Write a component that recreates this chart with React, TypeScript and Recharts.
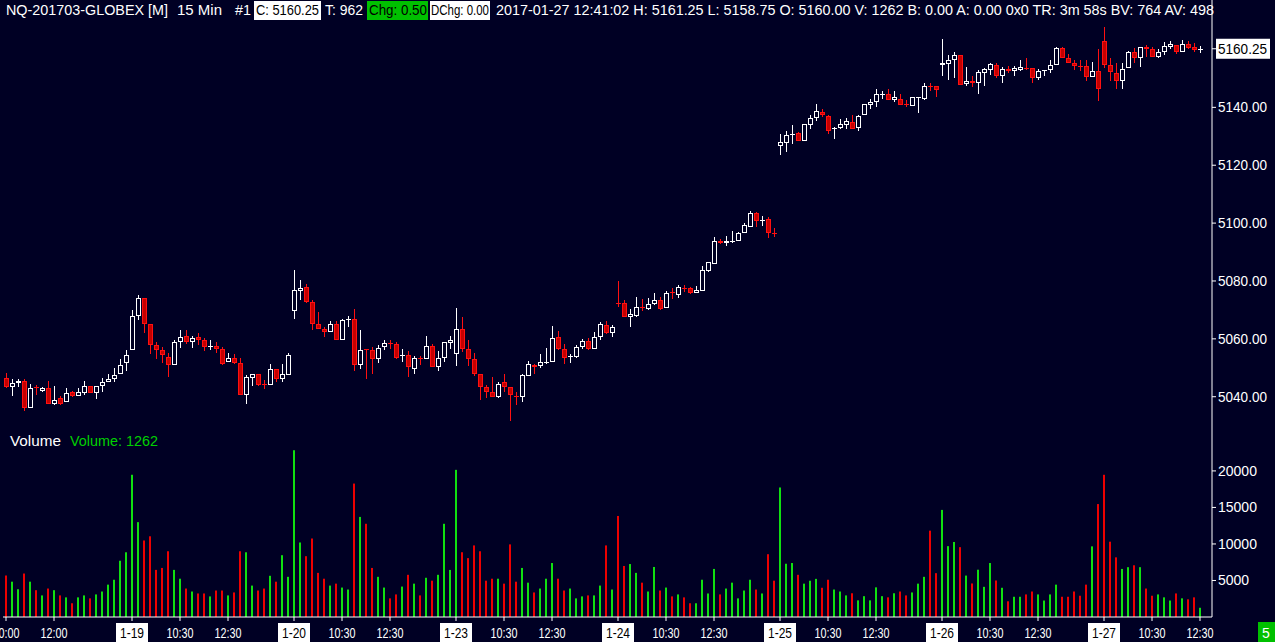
import React from "react";
import { ComposedChart, Bar, XAxis, YAxis } from "recharts";

// sessions shown (15 min bars, day session only)
const days = ["1-18", "1-19", "1-20", "1-23", "1-24", "1-25", "1-26", "1-27"];
const dayFirstBar = ["10:00", "08:30", "08:30", "08:30", "08:30", "08:30", "08:30", "08:30"];
const dayBarCount = [21, 27, 27, 27, 27, 27, 27, 17];

// one line per session
const opens = [
  5046.5, 5043.25, 5044.75, 5045.5, 5036.25, 5043.25, 5042, 5043, 5037.5, 5039.5, 5038.25, 5041.5, 5040.25, 5041.25, 5043.75, 5041.25, 5043.75, 5045.25, 5046, 5048, 5051.5,
  5056.25, 5068, 5074, 5065.25, 5057.75, 5056.25, 5053.75, 5051, 5059, 5061, 5058.75, 5060.5, 5059.5, 5057.25, 5057.5, 5056.5, 5052, 5053.5, 5051.75, 5040.5, 5046.5, 5047.75, 5044.25, 5044, 5049.5, 5046, 5047.5,
  5069.75, 5076.5, 5077.75, 5072.75, 5065, 5063.5, 5062.5, 5065, 5059.75, 5066.75, 5067, 5051, 5056.5, 5056, 5053, 5057.25, 5058.5, 5058.25, 5054, 5054.25, 5049.75, 5053.5, 5053, 5057.5, 5050.25, 5053.25, 5058.5,
  5054.75, 5063.5, 5056.5, 5053, 5047.75, 5043.25, 5041.5, 5039.75, 5045, 5043.25, 5040.25, 5039.75, 5047, 5051, 5050.5, 5051.75, 5052, 5060.5, 5056.5, 5053.75, 5053.75, 5057.25, 5059.25, 5056.5, 5060.5, 5064.75, 5062,
  5072.5, 5072.25, 5067.5, 5068, 5071, 5070.25, 5072, 5073.5, 5070.75, 5076.25, 5075, 5077.5, 5077.5, 5076, 5076.5, 5083.5, 5086, 5093.75, 5093, 5093.5, 5093.75, 5096.5, 5098.75, 5103.5, 5100.75, 5101.25, 5096.75,
  5126.75, 5127.75, 5130.5, 5131, 5128.5, 5133.75, 5136.25, 5138.5, 5137, 5132.75, 5133, 5134, 5135, 5132.75, 5137.25, 5140.75, 5142, 5144.5, 5144.75, 5142.5, 5143, 5141, 5140.5, 5143.25, 5142.75, 5147.5, 5147.5,
  5154.75, 5155, 5156.5, 5158.25, 5148, 5149.25, 5148.5, 5152, 5153, 5154.5, 5151, 5153.25, 5152.5, 5153, 5153.75, 5153.5, 5150, 5152.75, 5153, 5154.5, 5160.5, 5157, 5155.5, 5154.25, 5154.25, 5150.5, 5152.5,
  5163, 5154.5, 5152, 5149.25, 5153.5, 5159, 5157, 5161, 5160.25, 5157.25, 5159, 5161, 5161.5, 5159.25, 5161.75, 5161, 5160,
];
const highs = [
  5048.25, 5046, 5046.25, 5046.25, 5044.25, 5044, 5043.5, 5045.5, 5043.75, 5040.25, 5043, 5042, 5043, 5045.5, 5043.75, 5043.75, 5046.5, 5048, 5050, 5053, 5056,
  5070, 5075.25, 5074, 5065.25, 5058.75, 5057.25, 5055, 5059.5, 5063, 5063, 5061, 5062, 5060.25, 5059.5, 5059, 5057.25, 5055, 5054.75, 5053.5, 5047.5, 5048, 5048, 5045.75, 5051.25, 5049.5, 5051.25, 5055,
  5083.75, 5080.5, 5079, 5073.5, 5069.25, 5064.25, 5066.25, 5066.25, 5067, 5068, 5070.25, 5063, 5056.5, 5057.25, 5058, 5059.75, 5059.75, 5059, 5056.5, 5055.75, 5054, 5054, 5061, 5058.25, 5055.75, 5059, 5061,
  5070.5, 5067.5, 5059.75, 5055, 5048, 5044, 5046.75, 5045, 5047.75, 5043.25, 5041.5, 5048, 5052.25, 5051.25, 5054.75, 5056.75, 5064.5, 5062.75, 5058.25, 5054.75, 5058, 5060, 5060.25, 5062.5, 5065.75, 5066.25, 5064.75,
  5080, 5073.5, 5070.25, 5074.5, 5073.75, 5074, 5076, 5074.5, 5076.5, 5077.5, 5078.5, 5078.5, 5077.75, 5078.25, 5085.25, 5086.5, 5095.25, 5094.5, 5095.5, 5097.25, 5097, 5100, 5104.25, 5103.75, 5102.5, 5102, 5098.25,
  5130.75, 5132, 5134, 5131.5, 5134.25, 5137.25, 5141.25, 5139.5, 5137.5, 5133.25, 5136, 5136.25, 5137.5, 5137.5, 5141.25, 5142.75, 5146.5, 5145.75, 5146.5, 5145.5, 5144.75, 5142.5, 5143.75, 5143.75, 5148.5, 5148.5, 5147.5,
  5163.5, 5158.25, 5159, 5158.25, 5154, 5151, 5153, 5153.5, 5155.5, 5155.5, 5154, 5154.25, 5154.25, 5156.25, 5157, 5153.5, 5153.25, 5153, 5156.5, 5161, 5161, 5158.5, 5156.5, 5156.5, 5156.5, 5155.75, 5160.25,
  5167.75, 5157, 5155.5, 5155.25, 5159.5, 5160.5, 5161, 5161.5, 5161, 5160, 5162.5, 5163, 5161.5, 5163.25, 5163, 5162.25, 5161.25,
];
const lows = [
  5043, 5040.25, 5043.25, 5035, 5036.25, 5040.75, 5041.75, 5037.5, 5037.25, 5037, 5038.25, 5040, 5040.25, 5040.75, 5041.25, 5039.25, 5041.5, 5045.25, 5045, 5048, 5049,
  5056.25, 5066.5, 5062, 5054.75, 5053, 5051.5, 5046.75, 5051, 5057, 5058.25, 5057, 5057.75, 5055.75, 5056, 5055.25, 5051, 5052, 5051.25, 5040.5, 5037.5, 5043.75, 5043.75, 5042.5, 5044, 5045.25, 5045.25, 5047.5,
  5067, 5073.5, 5072.25, 5063, 5063.25, 5060.5, 5062.5, 5059.75, 5059.75, 5064.25, 5049, 5049.5, 5046, 5047.75, 5051.75, 5056, 5056.5, 5053, 5052, 5046.75, 5048, 5051, 5053, 5050.25, 5049, 5052, 5056.5,
  5050.5, 5055.5, 5050.5, 5047, 5039, 5039.5, 5039.75, 5039.5, 5041.75, 5031.5, 5037, 5038.25, 5047, 5048, 5050, 5051.25, 5052, 5056, 5051.25, 5051.75, 5053.5, 5056.5, 5056.25, 5056.5, 5059.5, 5061.75, 5060.75,
  5071, 5067.5, 5064.25, 5067.5, 5069.5, 5070, 5071.75, 5070, 5070.75, 5073.75, 5074.25, 5076.25, 5075.5, 5076, 5076.5, 5083.25, 5086, 5092.75, 5092, 5093.25, 5093.75, 5096.5, 5098.75, 5098.75, 5099, 5095, 5095.25,
  5123.5, 5124.5, 5127.5, 5128.5, 5128.5, 5132.5, 5135.25, 5136.5, 5130.75, 5129, 5132.5, 5132.5, 5132.5, 5132, 5137.25, 5139.5, 5140, 5143, 5142.5, 5142, 5140.75, 5140, 5140.5, 5138, 5142.5, 5145.5, 5143.5,
  5151, 5149.5, 5150, 5147.75, 5147.5, 5147, 5144.5, 5147.5, 5151.25, 5150.25, 5148.5, 5151.75, 5151, 5152.5, 5153, 5148.25, 5149.5, 5151, 5152, 5154.5, 5157, 5155.25, 5153, 5152.5, 5149, 5150.5, 5142.25,
  5153.5, 5149, 5146.5, 5146.25, 5153.5, 5155.5, 5154, 5157.5, 5157.25, 5157, 5158.25, 5160.25, 5158.5, 5159, 5160, 5159, 5158.75,
];
const closes = [
  5043.25, 5044.75, 5045.5, 5036.25, 5043, 5043, 5043, 5037.5, 5039, 5037.5, 5041.25, 5040.25, 5041.5, 5043.75, 5041.25, 5043.75, 5045.25, 5046.25, 5047.5, 5051, 5054.5,
  5068, 5074, 5065.25, 5058, 5056.25, 5054.25, 5051, 5059, 5060.5, 5058.75, 5060.25, 5059.5, 5057.25, 5057.5, 5056.5, 5051.25, 5053.5, 5051.75, 5040.5, 5046.75, 5047.75, 5044, 5044, 5049.5, 5046, 5047.75, 5054.5,
  5077, 5077.5, 5072.75, 5065, 5063.25, 5062.5, 5065, 5059.75, 5066.5, 5067, 5051, 5056, 5056.25, 5053, 5057, 5058.5, 5058.25, 5053.5, 5054.25, 5050.25, 5053.25, 5053.25, 5057.5, 5050.25, 5053.25, 5058.75, 5059.5,
  5063.5, 5056.5, 5053, 5047.75, 5043.25, 5041.5, 5039.75, 5044.5, 5043.25, 5040.5, 5040, 5047.5, 5051.25, 5050.25, 5052, 5052, 5060.25, 5056.5, 5053.5, 5054, 5057.25, 5059.25, 5056.5, 5060.5, 5065, 5062, 5064,
  5072.25, 5067.5, 5068.5, 5071, 5070.75, 5072, 5073.5, 5070.25, 5076, 5076, 5077.75, 5077.25, 5076, 5077, 5083.75, 5086.5, 5093.75, 5093, 5093.75, 5093.75, 5096.5, 5099.25, 5103.5, 5100.75, 5101, 5096.75, 5096.5,
  5128, 5130.5, 5130.75, 5128.5, 5134.25, 5136.25, 5138.75, 5137.25, 5132, 5133, 5134.25, 5135.25, 5132.5, 5137, 5141.25, 5142, 5144.75, 5144.75, 5142.5, 5143.5, 5140.75, 5140.75, 5143.5, 5143.5, 5147.5, 5147.25, 5146,
  5155.5, 5156.5, 5158.25, 5147.75, 5149.25, 5148.5, 5152.25, 5153.25, 5155, 5151, 5153.25, 5152.5, 5153.5, 5154, 5153.5, 5150.25, 5152.5, 5153, 5154.5, 5160.5, 5157, 5155.5, 5154.25, 5154, 5150.5, 5152.5, 5146.5,
  5154.5, 5152.25, 5149.25, 5153.25, 5159, 5157, 5161, 5160.25, 5157.5, 5159, 5161.25, 5162, 5159.25, 5161.75, 5160.5, 5159.75, 5160.25,
];
const volumes = [
  5680, 4835, 3800, 5950, 4835, 3670, 2955, 3895, 3670, 2955, 2686, 1880, 2686, 2955, 2550, 3090, 3490, 4430, 5100, 7700, 8860,
  19470, 12985, 10475, 11050, 6450, 6715, 9000, 6450, 5240, 3895, 3490, 3220, 3220, 2820, 3625, 3625, 2955, 3360, 9000, 8860, 4300, 3625, 3895, 5640, 4835, 8460, 5500,
  22830, 10200, 8325, 10745, 6040, 5240, 4300, 4565, 4030, 3760, 18265, 13700, 12760, 6715, 5500, 4030, 2550, 3090, 4165, 5775, 4565, 2955, 5370, 4970, 5775, 12760, 6445,
  20145, 8865, 8060, 9800, 9000, 4970, 5240, 5240, 4565, 9940, 4835, 6715, 4700, 3360, 3895, 5240, 7390, 5240, 3625, 3895, 2550, 2820, 2955, 2955, 4300, 9800, 3760,
  13830, 6985, 7250, 6040, 4700, 3490, 6850, 3625, 4030, 2820, 3090, 2686, 1880, 1880, 5100, 3220, 6580, 3090, 3895, 4700, 2550, 3625, 5100, 3760, 3220, 8595, 4970,
  17730, 7290, 7390, 5775, 4565, 4965, 5220, 4000, 5100, 3760, 3490, 2955, 3250, 2280, 2850, 2280, 4060, 2850, 2690, 3250, 3490, 2955, 3360, 4565, 5500, 11820, 6000,
  14660, 9700, 10270, 9560, 5670, 4590, 6475, 4130, 7390, 5000, 4000, 2150, 2770, 2770, 3090, 3490, 3090, 2255, 3090, 4430, 2770, 2770, 3490, 2910, 4430, 9670, 15460,
  19470, 10310, 8165, 6580, 6820, 7080, 6820, 3895, 2910, 3090, 2690, 2255, 3225, 2555, 2420, 2690, 1262,
];

const xTickKeys = [
  "1-18 10:00", "1-18 12:00",
  "1-19 08:30", "1-19 10:30", "1-19 12:30",
  "1-20 08:30", "1-20 10:30", "1-20 12:30",
  "1-23 08:30", "1-23 10:30", "1-23 12:30",
  "1-24 08:30", "1-24 10:30", "1-24 12:30",
  "1-25 08:30", "1-25 10:30", "1-25 12:30",
  "1-26 08:30", "1-26 10:30", "1-26 12:30",
  "1-27 08:30", "1-27 10:30", "1-27 12:30",
];
const priceTicks = [5040, 5060, 5080, 5100, 5120, 5140, 5160.25];
const lastPrice = 5160.25;
const volumeTicks = [5000, 10000, 15000, 20000];

const BG = "#000024";
const UP = "#ffffff";
const DOWN = "#ff1010";
const DOWN_FILL = "#c40000";
const VOL_UP = "#10e010";
const VOL_DOWN = "#ee0000";

const pad2 = (n: number) => (n < 10 ? "0" + n : "" + n);

const rows: any[] = [];
{
  let idx = 0;
  days.forEach((day, d) => {
    const [h0, m0] = dayFirstBar[d].split(":").map(Number);
    for (let k = 0; k < dayBarCount[d]; k++) {
      const mins = h0 * 60 + m0 + 15 * k;
      const time = pad2(Math.floor(mins / 60)) + ":" + pad2(mins % 60);
      rows.push({
        key: day + " " + time,
        open: opens[idx],
        high: highs[idx],
        low: lows[idx],
        close: closes[idx],
        range: [lows[idx], highs[idx]],
        volume: volumes[idx],
        up: closes[idx] >= opens[idx],
      });
      idx++;
    }
  });
}

function CandleShape(props: any) {
  const { x, y, width, height, payload } = props;
  if (x == null || y == null || !payload) return null;
  const top = Math.min(y, y + height);
  const bot = Math.max(y, y + height);
  const span = payload.high - payload.low;
  const py = (v: number) => (span > 0 ? top + ((payload.high - v) / span) * (bot - top) : top);
  const cx = Math.round(x + width / 2);
  const color = payload.up ? UP : DOWN;
  const bt = Math.round(py(Math.max(payload.open, payload.close)));
  const bb = Math.round(py(Math.min(payload.open, payload.close)));
  const bh = bb - bt;
  const wt = Math.round(top);
  const wb = Math.round(bot);
  return (
    <g>
      <rect x={cx} y={wt} width={1} height={Math.max(1, wb - wt)} fill={color} />
      {bh < 2 ? (
        <rect x={cx - 2} y={bt} width={5} height={Math.max(1, bh)} fill={color} />
      ) : (
        <rect
          x={cx - 1.5}
          y={bt + 0.5}
          width={4}
          height={bh - 1}
          fill={payload.up ? BG : DOWN_FILL}
          stroke={color}
          strokeWidth={1}
        />
      )}
    </g>
  );
}

function VolumeShape(props: any) {
  const { x, y, width, height, payload } = props;
  if (x == null || y == null || !payload) return null;
  const cx = Math.round(x + width / 2);
  return <rect x={cx - 1} y={y} width={2} height={height} fill={payload.up ? VOL_UP : VOL_DOWN} />;
}

function PriceTick(props: any) {
  const { x, y, payload } = props;
  const v = payload.value;
  const isLast = v === lastPrice;
  return (
    <g>
      {isLast && <rect x={x - 2} y={y - 10} width={54} height={20} fill="#ffffff" />}
      <text x={x} y={y} dy="0.355em" fill={isLast ? "#000000" : "#ffffff"} fontSize={14} textLength={49} lengthAdjust="spacingAndGlyphs">
        {v.toFixed(2)}
      </text>
    </g>
  );
}

function VolumeTick(props: any) {
  const { x, y, payload } = props;
  return (
    <text x={x} y={y} dy="0.355em" fill="#ffffff" fontSize={14}>
      {payload.value}
    </text>
  );
}

function TimeTick(props: any) {
  const { x, payload } = props;
  const [date, time] = String(payload.value).split(" ");
  const isDay = time === "08:30";
  if (isDay) {
    return (
      <g>
        <rect x={x - 16} y={193} width={32} height={19} fill="#ffffff" />
        <text x={x} y={208} textAnchor="middle" fill="#000000" fontSize={14} textLength={24} lengthAdjust="spacingAndGlyphs">
          {date}
        </text>
      </g>
    );
  }
  return (
    <text x={x} y={208} textAnchor="middle" fill="#ffffff" fontSize={14} textLength={27} lengthAdjust="spacingAndGlyphs">
      {time.replace(/^0/, "")}
    </text>
  );
}

const header = [
  { x: 6, w: 162, text: "NQ-201703-GLOBEX [M]" },
  { x: 177, w: 45, text: "15 Min" },
  { x: 235, w: 16, text: "#1" },
  { x: 256, w: 63, text: "C: 5160.25", box: "#ffffff", bx: 254, bw: 67 },
  { x: 325, w: 38, text: "T: 962" },
  { x: 369, w: 58, text: "Chg: 0.50", box: "#00c000", bx: 367, bw: 61 },
  { x: 431, w: 58, text: "DChg: 0.00", box: "#ffffff", bx: 430, bw: 60 },
  {
    x: 496,
    w: 718,
    text: "2017-01-27 12:41:02 H: 5161.25 L: 5158.75 O: 5160.00 V: 1262 B: 0.00 A: 0.00 0x0 TR: 3m 58s BV: 764 AV: 498",
  },
];

export default function App() {
  return (
    <div
      style={{
        position: "absolute",
        left: 0,
        top: 0,
        width: 1275,
        height: 642,
        background: BG,
        overflow: "hidden",
        fontFamily: "'Liberation Sans', Arial, sans-serif",
      }}
    >
      <div style={{ position: "absolute", left: 0, top: 0 }}>
        <ComposedChart width={1275} height={430} data={rows} margin={{ top: 0, right: 0, left: 3, bottom: 0 }}>
          <XAxis dataKey="key" hide padding={{ left: 0, right: 9 }} />
          <YAxis
            orientation="right"
            width={63}
            domain={[5028.5, 5177.1]}
            allowDataOverflow
            ticks={priceTicks}
            interval={0}
            axisLine={{ stroke: "#ffffff" }}
            tickLine={{ stroke: "#ffffff" }}
            tickSize={4}
            tickMargin={2}
            tick={<PriceTick />}
          />
          <Bar dataKey="range" barSize={6} shape={<CandleShape />} isAnimationActive={false} />
        </ComposedChart>
      </div>
      <div style={{ position: "absolute", left: 0, top: 430 }}>
        <ComposedChart width={1275} height={212} data={rows} margin={{ top: 0, right: 0, left: 3, bottom: 0 }}>
          <XAxis
            dataKey="key"
            height={25}
            padding={{ left: 0, right: 9 }}
            ticks={xTickKeys}
            interval={0}
            axisLine={{ stroke: "#ffffff" }}
            tickLine={{ stroke: "#ffffff" }}
            tickSize={4}
            tick={<TimeTick />}
          />
          <YAxis
            orientation="right"
            width={63}
            domain={[0, 25600]}
            allowDataOverflow
            ticks={volumeTicks}
            interval={0}
            axisLine={{ stroke: "#ffffff" }}
            tickLine={{ stroke: "#ffffff" }}
            tickSize={4}
            tickMargin={2}
            tick={<VolumeTick />}
          />
          <Bar dataKey="volume" barSize={6} shape={<VolumeShape />} isAnimationActive={false} />
        </ComposedChart>
      </div>
      <svg width={1275} height={642} style={{ position: "absolute", left: 0, top: 0, pointerEvents: "none" }}>
        {header.map((h) => (
          <g key={h.text}>
            {h.box && <rect x={h.bx} y={1} width={h.bw} height={19} fill={h.box} />}
            <text x={h.x} y={15} fontSize={14} fill={h.box ? "#000000" : "#ffffff"} textLength={h.w} lengthAdjust="spacingAndGlyphs">
              {h.text}
            </text>
          </g>
        ))}
        <text x={10} y={446} fontSize={14} fill="#ffffff" textLength={51} lengthAdjust="spacingAndGlyphs">
          Volume
        </text>
        <text x={70} y={446} fontSize={14} fill="#00d000" textLength={88} lengthAdjust="spacingAndGlyphs">
          Volume: 1262
        </text>
        <rect x={1258} y={622} width={17} height={20} fill="#00c000" />
        <text x={1266} y={638} fontSize={14} fill="#ffffff" textAnchor="middle">
          5
        </text>
      </svg>
    </div>
  );
}
